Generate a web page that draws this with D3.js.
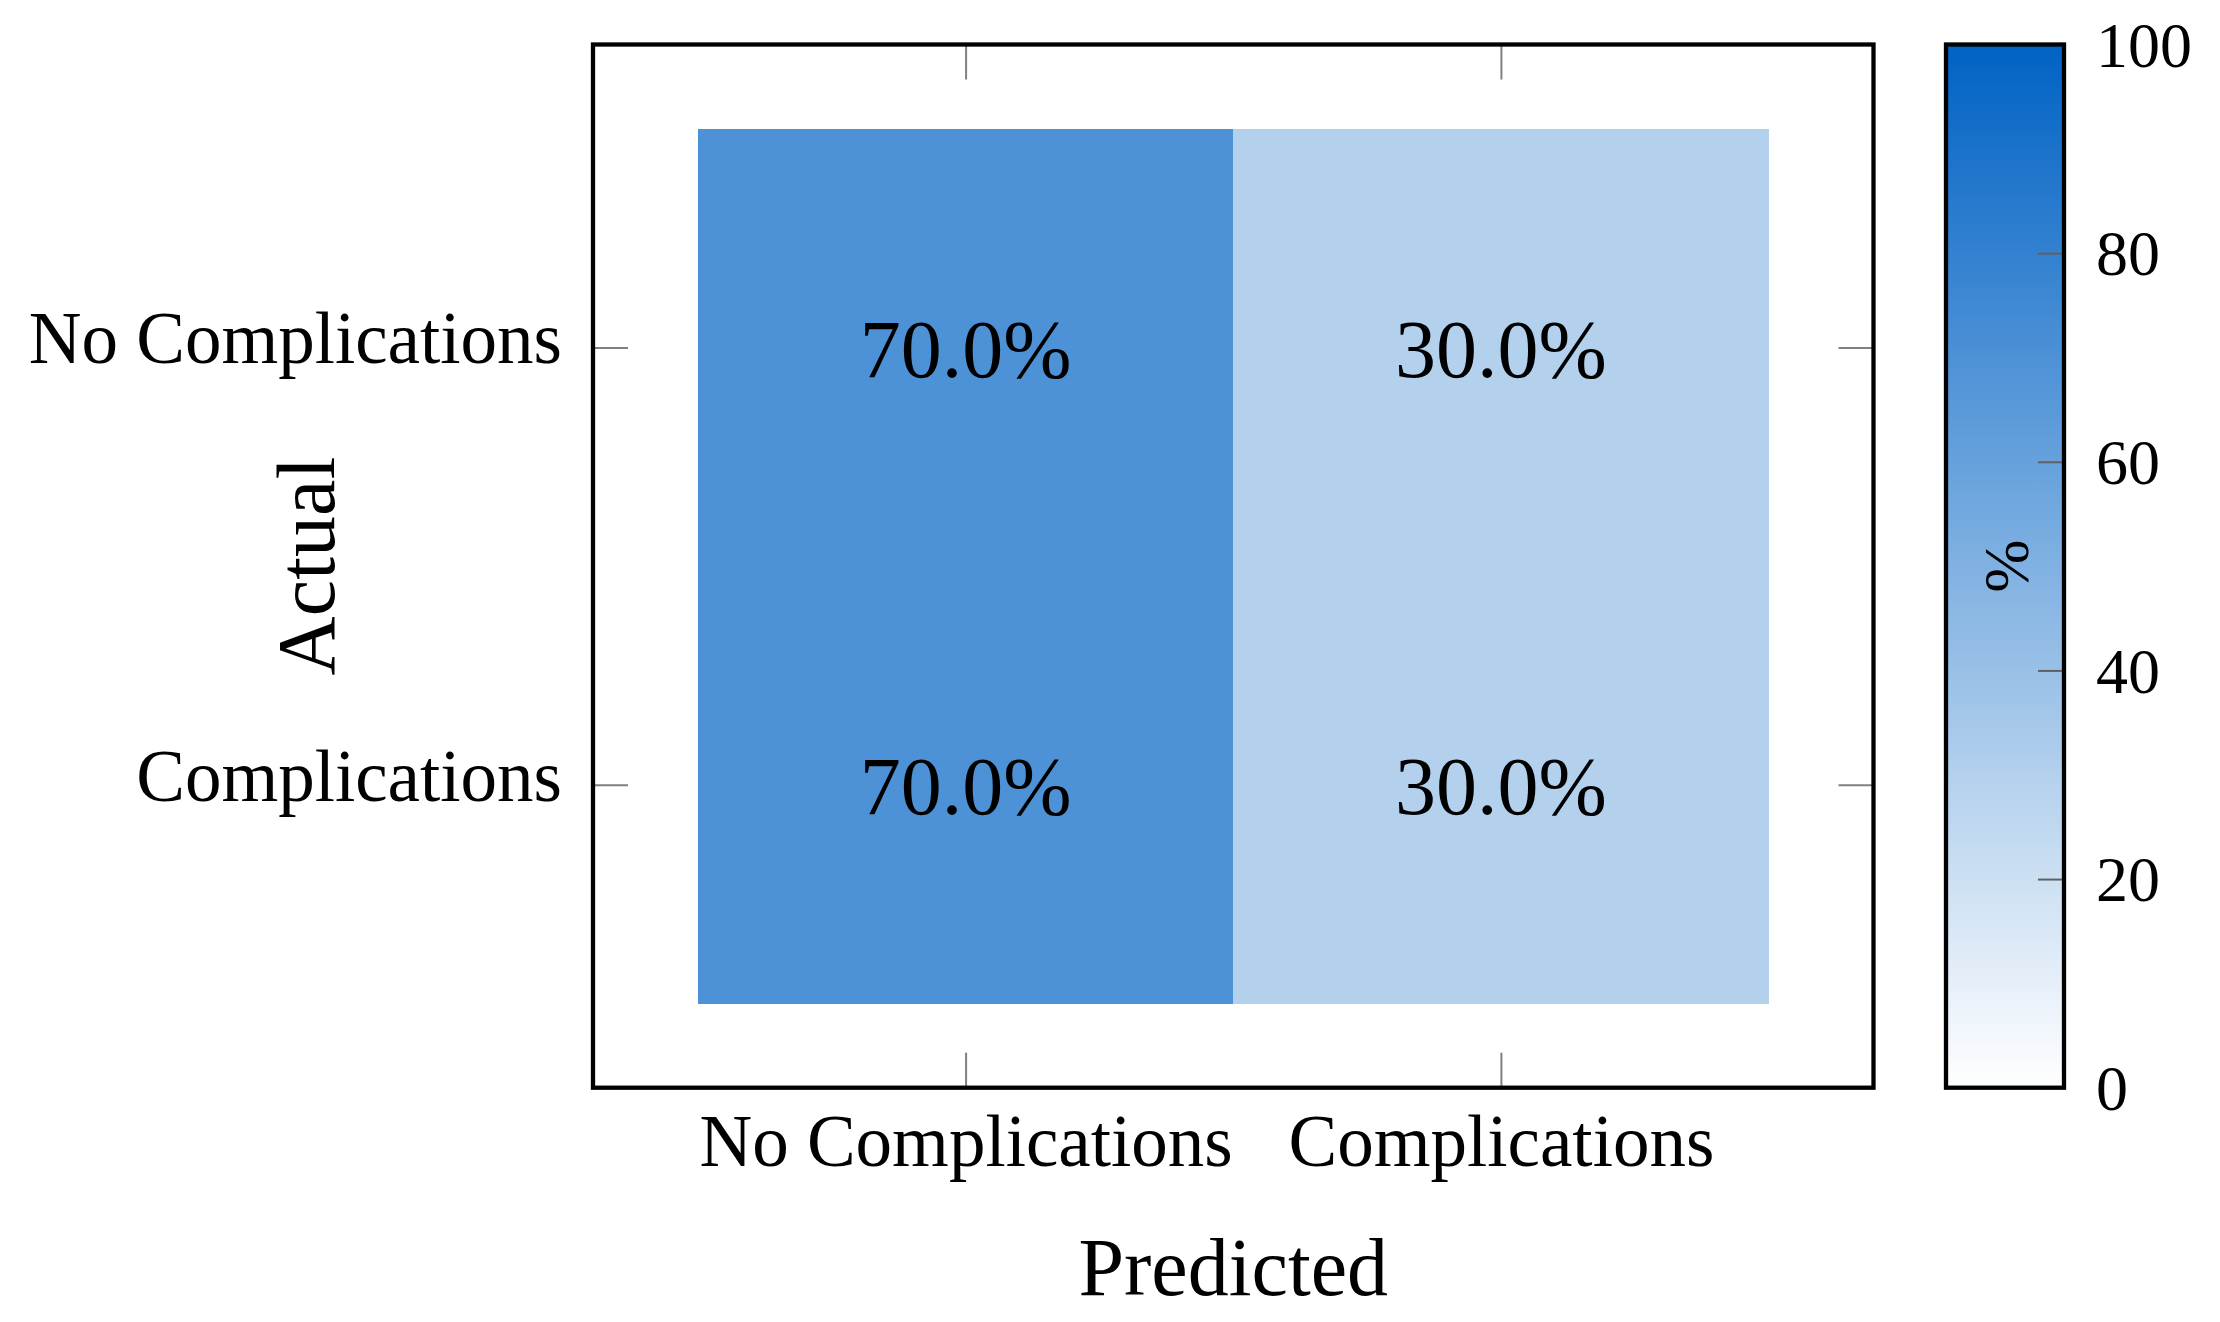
<!DOCTYPE html>
<html>
<head>
<meta charset="utf-8">
<script src="https://cdn.jsdelivr.net/npm/d3@7"></script>
<style>
  html, body { margin: 0; padding: 0; background: #ffffff; }
  svg { display: block; }
  text { font-family: "Liberation Serif", "Times New Roman", serif; fill: #000; }
</style>
</head>
<body>
<svg id="chart" width="2220" height="1322"></svg>
<script>
// ---- data ----
const actualLabels = ["No Complications", "Complications"];      // rows (y)
const predictedLabels = ["No Complications", "Complications"];   // columns (x)
const values = [
  [70.0, 30.0],
  [70.0, 30.0]
];
const colorbarTicks = [0, 20, 40, 60, 80, 100];
const xAxisTitle = "Predicted";
const yAxisTitle = "Actual";
const colorbarTitle = "%";

// ---- layout ----
const plot = { left: 593, right: 1873.5, top: 44.5, bottom: 1087.7 };
const cbar = { left: 1946, right: 2064 };
const frameW = 4.3;
const tickLen = 35;
const tickColor = "#808080";

const svg = d3.select("#chart");

const x = d3.scaleLinear().domain([-0.696, 1.696]).range([plot.left, plot.right]);
const y = d3.scaleLinear().domain([-0.693, 1.693]).range([plot.top, plot.bottom]);
const color = d3.scaleLinear().domain([0, 100]).range(["#ffffff", "#0062c4"]);
const cb = d3.scaleLinear().domain([0, 100]).range([plot.bottom, plot.top]);

// ---- cells ----
const cells = [];
values.forEach((row, i) => row.forEach((v, j) => cells.push({ i, j, v })));

svg.append("g").selectAll("rect").data(cells).join("rect")
  .attr("x", d => x(d.j - 0.5))
  .attr("y", d => y(d.i - 0.5))
  .attr("width", d => x(d.j + 0.5) - x(d.j - 0.5) + 0.5)
  .attr("height", d => y(d.i + 0.5) - y(d.i - 0.5) + 0.5)
  .attr("fill", d => color(d.v))
  .attr("shape-rendering", "crispEdges");

svg.append("g").selectAll("text").data(cells).join("text")
  .attr("x", d => x(d.j))
  .attr("y", d => y(d.i))
  .attr("dy", "0.36em")
  .attr("text-anchor", "middle")
  .style("font-size", "82px")
  .text(d => d.v.toFixed(1) + "%");

// ---- axes ----
function styleTicks(g) {
  g.select(".domain").remove();
  g.selectAll(".tick line").attr("stroke", tickColor).attr("stroke-width", 2);
}

// bottom
svg.append("g")
  .attr("transform", `translate(0,${plot.bottom})`)
  .call(d3.axisBottom(x).tickValues([0, 1]).tickSizeInner(-tickLen).tickSizeOuter(0)
    .tickPadding(26).tickFormat(i => predictedLabels[i]))
  .call(styleTicks)
  .call(g => g.selectAll(".tick text")
    .attr("fill", "#000").style("font-size", "73px").attr("dy", "0.71em")
    .style("font-family", "'Liberation Serif', serif"));

// top
svg.append("g")
  .attr("transform", `translate(0,${plot.top})`)
  .call(d3.axisTop(x).tickValues([0, 1]).tickSizeInner(-tickLen).tickSizeOuter(0).tickFormat(""))
  .call(styleTicks);

// left
svg.append("g")
  .attr("transform", `translate(${plot.left},0)`)
  .call(d3.axisLeft(y).tickValues([0, 1]).tickSizeInner(-tickLen).tickSizeOuter(0)
    .tickPadding(31).tickFormat(i => actualLabels[i]))
  .call(styleTicks)
  .call(g => g.selectAll(".tick text")
    .attr("fill", "#000").style("font-size", "73px").attr("dy", "0.21em")
    .style("font-family", "'Liberation Serif', serif"));

// right
svg.append("g")
  .attr("transform", `translate(${plot.right},0)`)
  .call(d3.axisRight(y).tickValues([0, 1]).tickSizeInner(-tickLen).tickSizeOuter(0).tickFormat(""))
  .call(styleTicks);

// frame
svg.append("rect")
  .attr("x", plot.left).attr("y", plot.top)
  .attr("width", plot.right - plot.left).attr("height", plot.bottom - plot.top)
  .attr("fill", "none").attr("stroke", "#000").attr("stroke-width", frameW);

// axis titles
svg.append("text")
  .attr("x", (plot.left + plot.right) / 2).attr("y", 1295)
  .attr("text-anchor", "middle").style("font-size", "82px")
  .text(xAxisTitle);

svg.append("text")
  .attr("transform", `translate(334,${(plot.top + plot.bottom) / 2}) rotate(-90)`)
  .attr("text-anchor", "middle").style("font-size", "82px")
  .text(yAxisTitle);

// ---- colorbar ----
const defs = svg.append("defs");
const grad = defs.append("linearGradient").attr("id", "cbgrad")
  .attr("x1", 0).attr("y1", 1).attr("x2", 0).attr("y2", 0);
d3.range(0, 101, 10).forEach(v => {
  grad.append("stop").attr("offset", (v / 100)).attr("stop-color", color(v));
});

svg.append("rect")
  .attr("x", cbar.left).attr("y", cb(100))
  .attr("width", cbar.right - cbar.left).attr("height", cb(0) - cb(100))
  .attr("fill", "url(#cbgrad)");

svg.append("g")
  .attr("transform", `translate(${cbar.right},0)`)
  .call(d3.axisRight(cb).tickValues(colorbarTicks).tickSizeInner(-26).tickSizeOuter(0)
    .tickPadding(32).tickFormat(d3.format("d")))
  .call(g => g.select(".domain").remove())
  .call(g => g.selectAll(".tick line").attr("stroke", "#606060").attr("stroke-width", 2))
  .call(g => g.selectAll(".tick text")
    .attr("fill", "#000").style("font-size", "64px").attr("dy", "0.34em")
    .style("font-family", "'Liberation Serif', serif"));

svg.append("rect")
  .attr("x", cbar.left).attr("y", cb(100))
  .attr("width", cbar.right - cbar.left).attr("height", cb(0) - cb(100))
  .attr("fill", "none").attr("stroke", "#000").attr("stroke-width", frameW);

svg.append("text")
  .attr("transform", `translate(2028,${(plot.top + plot.bottom) / 2}) rotate(-90)`)
  .attr("text-anchor", "middle").style("font-size", "64px")
  .text(colorbarTitle);
</script>
</body>
</html>
